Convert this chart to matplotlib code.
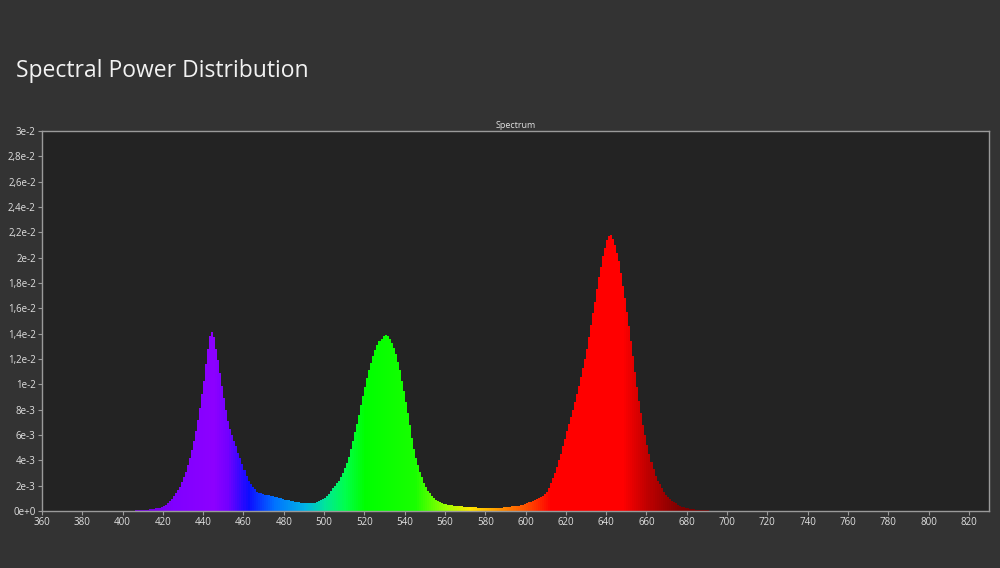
import matplotlib
matplotlib.use("Agg")
import matplotlib.pyplot as plt
import numpy as np

# spectrum, 1 nm bins from 400 nm
start_nm = 400
power = [
    0.00001, 0.00001, 0.00002, 0.00002, 0.00003, 0.00003, 0.00004, 0.00005, 0.00006, 0.00007,  # 400
    0.00008, 0.00009, 0.00011, 0.00012, 0.00014, 0.00017, 0.00020, 0.00023, 0.00027, 0.00031,  # 410
    0.00036, 0.00047, 0.00060, 0.00077, 0.00095, 0.00117, 0.0014, 0.00165, 0.0019, 0.0023,    # 420
    0.0027, 0.0031, 0.0036, 0.0042, 0.0048, 0.0055, 0.0063, 0.0072, 0.0081, 0.0092,           # 430
    0.0103, 0.0116, 0.0128, 0.0138, 0.0141, 0.0137, 0.0128, 0.0119, 0.0109, 0.0099,           # 440
    0.0089, 0.0080, 0.0071, 0.0065, 0.0060, 0.0055, 0.0051, 0.0046, 0.0042, 0.0037,           # 450
    0.0032, 0.0028, 0.0024, 0.0021, 0.0019, 0.0017, 0.0015, 0.00145, 0.0014, 0.00135,         # 460
    0.0013, 0.00127, 0.00124, 0.0012, 0.00117, 0.00114, 0.0011, 0.00105, 0.0010, 0.00095,     # 470
    0.0009, 0.00087, 0.00083, 0.0008, 0.00076, 0.00073, 0.0007, 0.00067, 0.00064, 0.00062,    # 480
    0.0006, 0.00059, 0.00059, 0.0006, 0.00062, 0.00065, 0.00069, 0.00075, 0.00083, 0.00093,   # 490
    0.00105, 0.0012, 0.00137, 0.00155, 0.0018, 0.0020, 0.0022, 0.0024, 0.0027, 0.0030,        # 500
    0.0034, 0.0038, 0.0043, 0.0049, 0.0055, 0.0062, 0.0069, 0.0076, 0.0084, 0.0091,           # 510
    0.0098, 0.0105, 0.0111, 0.0117, 0.0122, 0.0127, 0.0131, 0.0134, 0.0136, 0.0138,           # 520
    0.0139, 0.0138, 0.0136, 0.0133, 0.0129, 0.0124, 0.0118, 0.0111, 0.0103, 0.0095,           # 530
    0.0086, 0.0077, 0.0068, 0.0058, 0.0049, 0.0042, 0.0036, 0.0031, 0.0027, 0.0022,           # 540
    0.0019, 0.0016, 0.0014, 0.0012, 0.0010, 0.0009, 0.0008, 0.0007, 0.00064, 0.00058,         # 550
    0.00054, 0.0005, 0.00047, 0.00045, 0.00043, 0.00041, 0.0004, 0.00038, 0.00036, 0.00035,   # 560
    0.00033, 0.00032, 0.00031, 0.0003, 0.00029, 0.00028, 0.00027, 0.00026, 0.00025, 0.00025,  # 570
    0.00024, 0.00024, 0.00024, 0.00024, 0.00024, 0.00025, 0.00025, 0.00026, 0.00027, 0.00028, # 580
    0.0003, 0.00032, 0.00034, 0.00036, 0.00038, 0.0004, 0.00043, 0.00047, 0.00051, 0.00056,   # 590
    0.00062, 0.00068, 0.00074, 0.00081, 0.00088, 0.00095, 0.0010, 0.0011, 0.0012, 0.00135,    # 600
    0.0015, 0.0018, 0.0022, 0.0026, 0.0030, 0.0035, 0.0040, 0.0045, 0.0051, 0.0057,           # 610
    0.0063, 0.0069, 0.0074, 0.0080, 0.0086, 0.0092, 0.0099, 0.0106, 0.0113, 0.0120,           # 620
    0.0128, 0.0137, 0.0147, 0.0156, 0.0165, 0.0175, 0.0185, 0.0193, 0.0201, 0.0208,           # 630
    0.0214, 0.0217, 0.0218, 0.0215, 0.0210, 0.0204, 0.0197, 0.0188, 0.0178, 0.0168,           # 640
    0.0157, 0.0146, 0.0134, 0.0122, 0.0110, 0.0098, 0.0087, 0.0077, 0.0068, 0.0060,           # 650
    0.0052, 0.0045, 0.0039, 0.0033, 0.0028, 0.0024, 0.0021, 0.0018, 0.0015, 0.0013,           # 660
    0.0011, 0.00095, 0.0008, 0.0007, 0.0006, 0.0005, 0.00042, 0.00035, 0.00029, 0.00025,      # 670
    0.00021, 0.00018, 0.00015, 0.00013, 0.00011, 0.0001, 0.00008, 0.00007, 0.00006, 0.00005,  # 680
    0.00004, 0.00003, 0.00003, 0.00002, 0.00002, 0.00002, 0.00001, 0.00001, 0.00001, 0.00001, # 690
]
wavelengths = np.arange(start_nm, start_nm + len(power))

x_ticks = list(range(360, 821, 20))
y_ticks = [0.002 * i for i in range(16)]
y_tick_labels = ["0e+0", "2e-3", "4e-3", "6e-3", "8e-3", "1e-2", "1,2e-2", "1,4e-2",
                 "1,6e-2", "1,8e-2", "2e-2", "2,2e-2", "2,4e-2", "2,6e-2", "2,8e-2", "3e-2"]


def wavelength_color(wl):
    # rough visible-spectrum palette, tuned by eye to the reference
    nm = [380, 425, 445, 452, 462, 475, 490, 500, 510, 520, 545, 560, 572, 588, 600, 612, 648, 660, 675, 700, 780]
    r = [0.35, 0.5, 0.55, 0.45, 0.05, 0.0, 0.0, 0.0, 0.0, 0.0, 0.1, 0.6, 1.0, 1.0, 1.0, 1.0, 1.0, 0.75, 0.5, 0.35, 0.25]
    g = [0, 0, 0, 0, 0.05, 0.45, 0.7, 0.9, 1.0, 1.0, 1.0, 1.0, 0.9, 0.55, 0.3, 0.0, 0.0, 0.0, 0.0, 0.0, 0]
    b = [0.6, 1.0, 1.0, 1.0, 1.0, 1.0, 0.9, 0.6, 0.3, 0.0, 0.0, 0.0, 0.0, 0.0, 0.0, 0.0, 0.0, 0.0, 0.0, 0.0, 0]
    return (np.interp(wl, nm, r), np.interp(wl, nm, g), np.interp(wl, nm, b))


plt.rcParams['font.family'] = ['Open Sans', 'DejaVu Sans']

fig = plt.figure(figsize=(10, 5.68), dpi=100)
fig.patch.set_facecolor("#333333")

ax = fig.add_axes([0.042, 0.1004, 0.947, 0.669])
ax.set_facecolor("#232323")

colors = [wavelength_color(w) for w in wavelengths]
ax.bar(wavelengths, power, width=1.0, align="edge", color=colors,
       linewidth=0, antialiased=False)

ax.set_xlim(360, 830)
ax.set_ylim(0, 0.03)
ax.set_xticks(x_ticks)
ax.set_yticks(y_ticks)
ax.set_yticklabels(y_tick_labels)

for side in ["left", "bottom", "top", "right"]:
    ax.spines[side].set_color("#9a9a9a")
    ax.spines[side].set_linewidth(1.0)

ax.tick_params(colors="#9a9a9a", labelcolor="#e0e0e0", labelsize=7,
               length=3, width=0.8, pad=1.5)

ax.set_title("Spectrum", color="#e0e0e0", fontsize=6.5, pad=2)

fig.text(0.016, 0.865, "Spectral Power Distribution", color="#f2f2f2",
         fontsize=16.5, ha="left", va="baseline")

fig.savefig("out.png", dpi=100, facecolor=fig.get_facecolor())
plt.close(fig)
